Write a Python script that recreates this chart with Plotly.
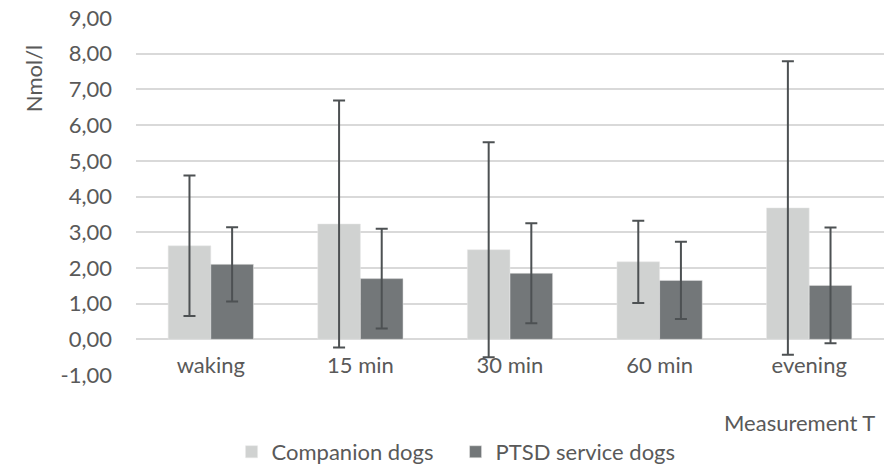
import plotly.graph_objects as go

categories = ["waking", "15 min", "30 min", "60 min", "evening"]
companion = [2.62, 3.23, 2.51, 2.17, 3.68]
companion_err = [1.97, 3.46, 3.01, 1.15, 4.11]
ptsd = [2.10, 1.70, 1.85, 1.65, 1.51]
ptsd_err = [1.04, 1.40, 1.40, 1.08, 1.62]
y_ticks = [-1, 0, 1, 2, 3, 4, 5, 6, 7, 8, 9]
y_tick_labels = ["-1,00", "0,00", "1,00", "2,00", "3,00", "4,00",
                 "5,00", "6,00", "7,00", "8,00", "9,00"]

FONT = "Lato"
TXT = "#595959"
ERR = "#4d5153"
FS = 22

fig = go.Figure()
fig.add_trace(go.Bar(
    x=categories, y=companion, name="Companion dogs",
    marker=dict(color="#d0d2d1", line=dict(color="#e8e8e8", width=0.5)),
    error_y=dict(type="data", array=companion_err, visible=True,
                 color=ERR, thickness=2, width=6),
))
fig.add_trace(go.Bar(
    x=categories, y=ptsd, name="PTSD service dogs",
    marker=dict(color="#737779", line=dict(color="#e8e8e8", width=0.5)),
    error_y=dict(type="data", array=ptsd_err, visible=True,
                 color=ERR, thickness=2, width=6),
))

fig.update_layout(
    width=895, height=464,
    margin=dict(l=136, r=11, t=18, b=89, autoexpand=False),
    paper_bgcolor="white", plot_bgcolor="white",
    barmode="group", bargap=0.43, bargroupgap=0,
    font=dict(family=FONT, size=FS, color=TXT),
    showlegend=True,
    legend=dict(orientation="h", xref="container", yref="container",
                x=0.509, xanchor="center", y=0.026, yanchor="middle",
                font=dict(size=FS, color=TXT),
                itemwidth=30, entrywidth=179, entrywidthmode="pixels",
                bgcolor="rgba(0,0,0,0)"),
    annotations=[
        dict(text="Nmol/l", xref="paper", yref="paper", x=-0.136, y=0.832,
             xanchor="center", yanchor="middle", textangle=-90,
             showarrow=False, font=dict(size=FS, color=TXT)),
        dict(text="Measurement T", xref="paper", yref="paper", x=0.99, y=-0.134,
             xanchor="right", yanchor="middle", showarrow=False,
             font=dict(size=FS, color=TXT)),
    ],
)
fig.update_yaxes(
    range=[-1, 9], tickvals=y_ticks, ticktext=y_tick_labels,
    showgrid=True, gridcolor="#d9d9d9", gridwidth=1.5,
    zeroline=True, zerolinecolor="#d9d9d9", zerolinewidth=1.5,
    showline=False, ticks="", ticklabelstandoff=23, automargin=False,
    tickfont=dict(size=FS, color=TXT),
)
fig.update_xaxes(
    showgrid=False, showline=False, ticks="", automargin=False,
    ticklabelstandoff=-25,
    tickfont=dict(size=FS, color=TXT),
)

# remove the browser's default 8px body margin so the figure fills the window
fig.write_html("out.html", config={"displayModeBar": False},
               post_script="document.body.style.margin='0px';")
